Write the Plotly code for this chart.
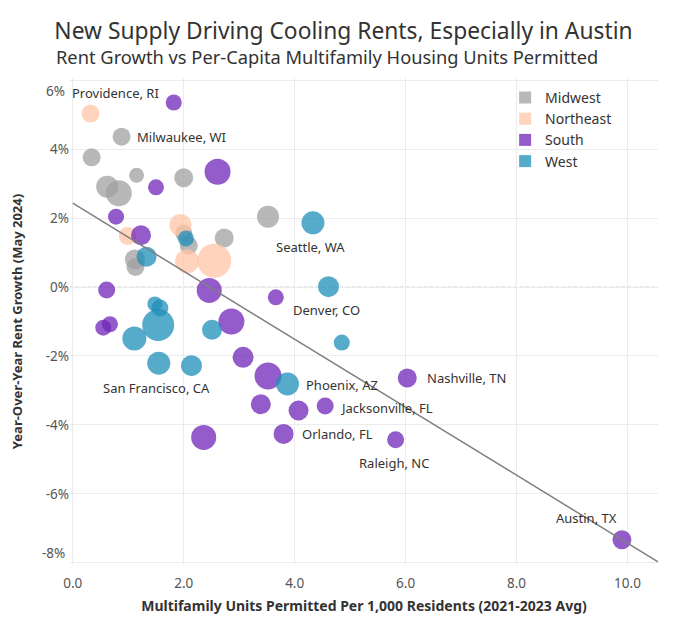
import numpy as np
import plotly.graph_objects as go

# values
# x = multifamily units permitted per 1,000 residents, y = YoY rent growth (%)
midwest_x = [0.88, 0.34, 1.15, 0.62, 0.83, 2.00, 2.00, 2.09, 2.73, 3.52, 1.12, 1.13]
midwest_y = [4.36, 3.76, 3.24, 2.91, 2.72, 3.17, 1.56, 1.20, 1.42, 2.04, 0.80, 0.58]
midwest_size = [18, 18, 15, 22, 26, 19, 17, 18, 19, 22, 20, 18]

northeast_x = [0.32, 0.99, 1.94, 2.06, 2.55]
northeast_y = [5.03, 1.48, 1.80, 0.75, 0.76]
northeast_size = [18, 18, 22, 24, 34]

south_x = [1.82, 1.50, 2.61, 0.78, 1.23, 0.61, 2.46, 3.66, 0.55, 0.67, 2.86,
           3.07, 3.52, 3.39, 4.07, 4.55, 3.80, 2.36, 6.03, 5.82, 9.90]
south_y = [5.35, 2.89, 3.34, 2.04, 1.50, -0.09, -0.10, -0.30, -1.18, -1.08, -1.00,
           -2.04, -2.58, -3.40, -3.58, -3.45, -4.26, -4.36, -2.64, -4.43, -7.33]
south_size = [16, 16, 26, 16, 20, 17, 25, 16, 16, 16, 26,
              21, 27, 20, 20, 17, 20, 25, 19, 17, 19]

west_x = [4.33, 2.04, 1.33, 4.61, 1.48, 1.57, 1.54, 1.11, 2.51, 4.85, 1.55, 2.14, 3.87]
west_y = [1.86, 1.41, 0.88, 0.01, -0.49, -0.61, -1.10, -1.49, -1.24, -1.61, -2.21, -2.28, -2.81]
west_size = [23, 16, 20, 21, 15, 17, 32, 24, 20, 16, 23, 21, 23]

regions = ["Midwest", "Northeast", "South", "West"]

# labelled metros: (region, index of the point in that region's lists)
label_city = ["Providence, RI", "Milwaukee, WI", "Seattle, WA", "Denver, CO",
              "San Francisco, CA", "Phoenix, AZ", "Jacksonville, FL", "Orlando, FL",
              "Raleigh, NC", "Nashville, TN", "Austin, TX"]
label_region = ["Northeast", "Midwest", "West", "West", "West", "West",
                "South", "South", "South", "South", "South"]
label_point = [0, 0, 0, 3, 10, 12, 15, 16, 19, 18, 20]

y_tickvals = [-8, -6, -4, -2, 0, 2, 4, 6]
y_ticktext = ["-8%", "-6%", "-4%", "-2%", "0%", "2%", "4%", "6%"]
x_tickvals = [0, 2, 4, 6, 8, 10]

title = "New Supply Driving Cooling Rents, Especially in Austin"
subtitle = "Rent Growth vs Per-Capita Multifamily Housing Units Permitted"

# styling
colors = {"Midwest": "#a0a0a0", "Northeast": "#ffc4a6",
          "South": "#6f26b8", "West": "#1f8fb8"}
# label placement relative to its bubble: (xshift px, yshift px, anchor)
label_shift = [(25, 21, "center"), (13, 0, "left"), (-2, -24, "center"),
               (-2, -23, "center"), (-2, -25, "center"), (17, -1, "left"),
               (13, -2, "left"), (16, 0, "left"), (-2, -23, "center"),
               (18, 0, "left"), (-35, 22, "center")]
FONT = "Noto Sans"
TICKFONT = dict(family=FONT, size=13.5, color="#555555")

# the page body adds an 8px margin, so the figure is 8px smaller than the window
W, H = 672, 612
ML, MR, MT, MB = 62, 21.5, 70, 55
PLOT_H = H - MT - MB

data = {
    "Midwest": (midwest_x, midwest_y, midwest_size),
    "Northeast": (northeast_x, northeast_y, northeast_size),
    "South": (south_x, south_y, south_size),
    "West": (west_x, west_y, west_size),
}

fig = go.Figure()

for reg in regions:
    xs, ys, ss = data[reg]
    fig.add_trace(go.Scatter(
        x=xs, y=ys, mode="markers", name=reg, showlegend=False,
        marker=dict(size=ss, sizemode="diameter", color=colors[reg],
                    opacity=0.75, line=dict(width=0)),
        hovertemplate=reg + "<br>%{x:.1f}, %{y:.1f}%<extra></extra>"))

# legend swatches (squares, like the original)
for reg in regions:
    fig.add_trace(go.Scatter(
        x=[None], y=[None], mode="markers", name=reg,
        marker=dict(symbol="square", size=13, color=colors[reg], opacity=0.75)))

# linear trend over all metros
all_x = np.array(midwest_x + northeast_x + south_x + west_x)
all_y = np.array(midwest_y + northeast_y + south_y + west_y)
slope, intercept = np.polyfit(all_x, all_y, 1)
x_line = np.array([0, 10.55])
fig.add_trace(go.Scatter(x=x_line, y=intercept + slope * x_line, mode="lines",
                         line=dict(color="#7f7f7f", width=1.5),
                         showlegend=False, hoverinfo="skip"))

fig.add_hline(y=0, line=dict(color="#c4c4c4", width=1, dash="dot"), layer="below")

for city, reg, idx, (dx, dy, anc) in zip(label_city, label_region, label_point, label_shift):
    xs, ys, _ = data[reg]
    fig.add_annotation(x=xs[idx], y=ys[idx], text=city, showarrow=False,
                       xshift=dx, yshift=dy, xanchor=anc, yanchor="middle",
                       font=dict(family=FONT, size=13, color="#333333"))

# the outermost y tick labels sit inside the plot edge, as in the original
edge_ticks = [(y_tickvals[-1], y_ticktext[-1], -11), (y_tickvals[0], y_ticktext[0], 10)]
for val, txt, dy in edge_ticks:
    fig.add_annotation(xref="paper", x=0, y=val, text=txt, showarrow=False,
                       xanchor="right", yanchor="middle", xshift=-3, yshift=dy,
                       font=TICKFONT)
inner_ticktext = [""] + y_ticktext[1:-1] + [""]

fig.add_annotation(xref="paper", yref="paper", x=0.4376, y=1 + 21.5 / PLOT_H,
                   text=subtitle, showarrow=False, xanchor="center", yanchor="middle",
                   font=dict(family=FONT, size=18.3, color="#333333"))

fig.update_layout(
    width=W, height=H,
    margin=dict(l=ML, r=MR, t=MT, b=MB),
    paper_bgcolor="white", plot_bgcolor="white",
    font=dict(family=FONT, color="#333333"),
    title=dict(text=title, x=335.5 / W, xanchor="center", y=1 - 23.5 / H, yanchor="middle",
               automargin=False,
               font=dict(family=FONT, size=22.8, color="#333333")),
    legend=dict(x=0.74, xanchor="left", y=0.992, yanchor="top",
                font=dict(family=FONT, size=14, color="#333333"),
                bgcolor="rgba(0,0,0,0)", itemsizing="constant", tracegroupgap=0),
    showlegend=True,
)

fig.update_xaxes(range=[-0.05, 10.55], tickvals=x_tickvals, tickformat=".1f",
                 showgrid=True, gridcolor="#ececec", zeroline=False, showline=False,
                 ticks="", tickfont=TICKFONT, automargin=False, ticklabelstandoff=8,
                 title=dict(text="<b>Multifamily Units Permitted Per 1,000 Residents (2021-2023 Avg)</b>",
                            font=dict(size=14, color="#333333"), standoff=10))
fig.update_yaxes(range=[-8.06, 6.06], tickvals=y_tickvals, ticktext=inner_ticktext,
                 showgrid=True, gridcolor="#ececec", zeroline=False, showline=False,
                 ticks="", tickfont=TICKFONT, automargin=False,
                 title=dict(text="<b>Year-Over-Year Rent Growth (May 2024)</b>",
                            font=dict(size=13, color="#333333"), standoff=20))

fig.write_html("out.html")
